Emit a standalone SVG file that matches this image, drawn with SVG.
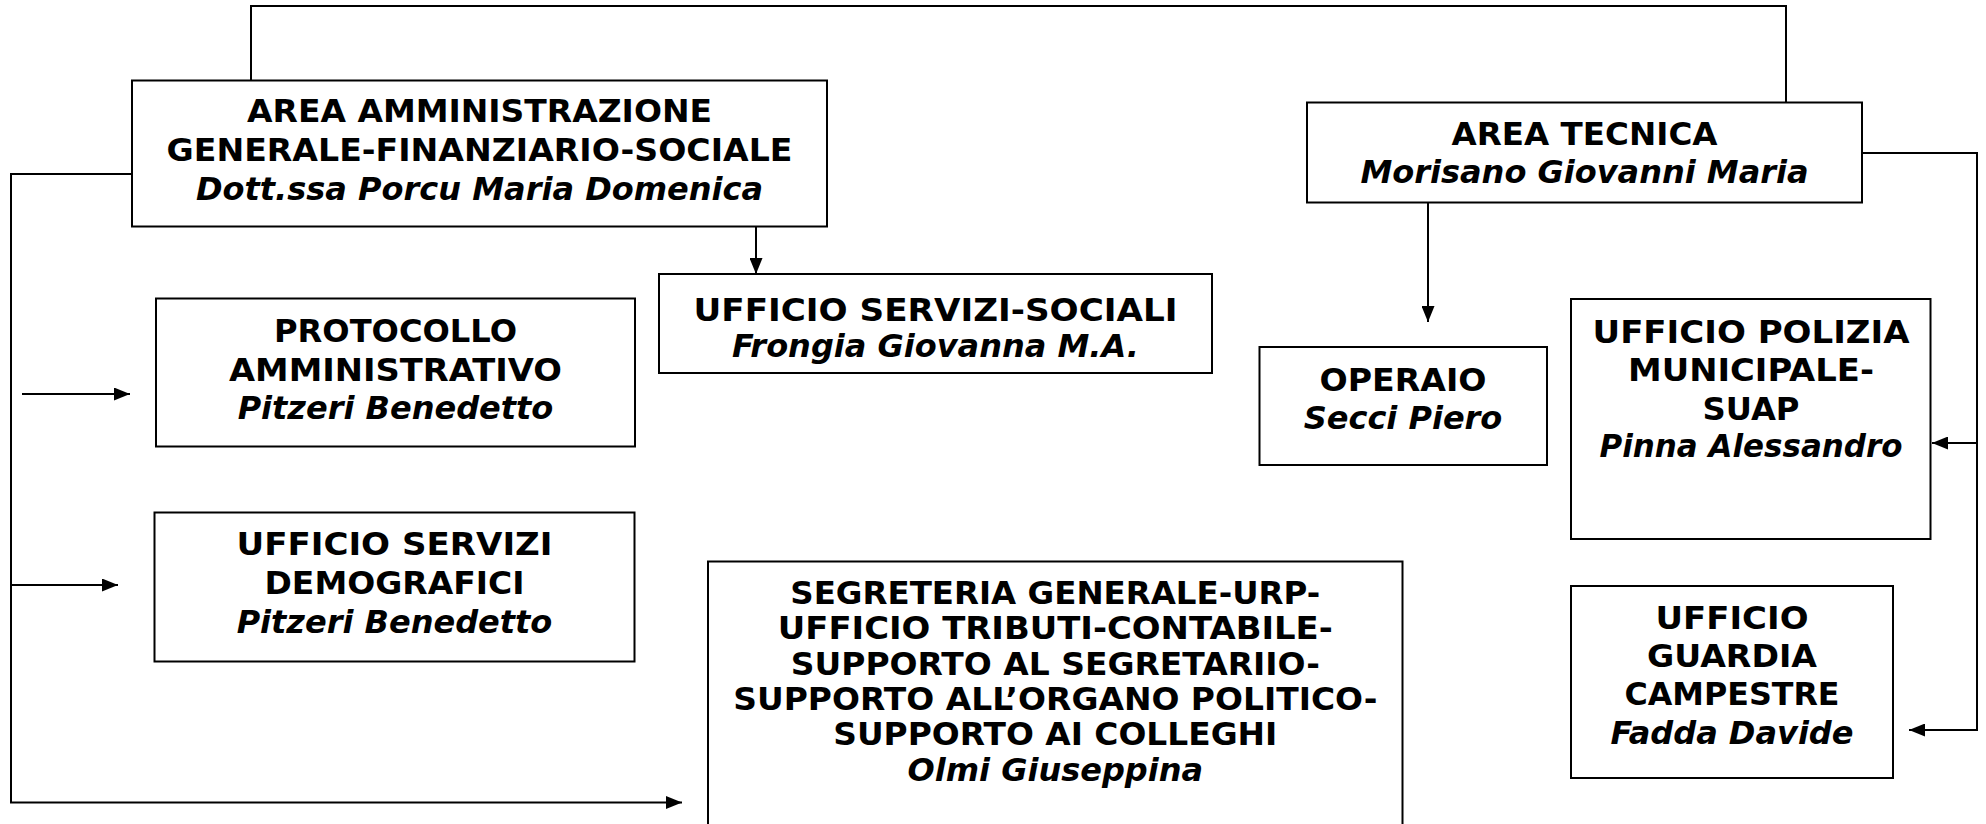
<svg xmlns="http://www.w3.org/2000/svg" width="1986" height="824" viewBox="0 0 1986 824">
<style>
.box{fill:#fff;stroke:#000;stroke-width:2}
.ln{fill:none;stroke:#000;stroke-width:2}
text{font-family:Verdana,"DejaVu Sans",sans-serif;font-weight:bold;font-size:32px;fill:#000;text-anchor:middle}
.it{font-style:italic}
</style>
<defs>
<marker id="ah" markerUnits="userSpaceOnUse" markerWidth="16" markerHeight="13" refX="16" refY="6.5" orient="auto">
<path d="M0,0 L16,6.5 L0,13 Z" fill="#000"/>
</marker>
</defs>
<rect width="1986" height="824" fill="#fff"/>
<g id="connectors">
<path class="ln" d="M251,80 V6 H1786 V102"/>
<path class="ln" d="M132,174 H11 V802.5 H682" marker-end="url(#ah)"/>
<path class="ln" d="M11,585 H118" marker-end="url(#ah)"/>
<path class="ln" d="M22,394 H130" marker-end="url(#ah)"/>
<path class="ln" d="M756,227 V274" marker-end="url(#ah)"/>
<path class="ln" d="M1862,153 H1977 V730 H1909" marker-end="url(#ah)"/>
<path class="ln" d="M1977,443 H1932" marker-end="url(#ah)"/>
<path class="ln" d="M1428,202 V322" marker-end="url(#ah)"/>
</g>
<g id="area-amministrazione">
<rect class="box" x="132" y="80.5" width="695" height="146"/>
<text x="479.5" y="122" textLength="465" lengthAdjust="spacingAndGlyphs">AREA AMMINISTRAZIONE</text>
<text x="479.5" y="161" textLength="626" lengthAdjust="spacingAndGlyphs">GENERALE-FINANZIARIO-SOCIALE</text>
<text class="it" x="479.5" y="199.5">Dott.ssa Porcu Maria Domenica</text>
</g>
<g id="servizi-sociali">
<rect class="box" x="659" y="274" width="553" height="99"/>
<text x="935.5" y="321" textLength="484" lengthAdjust="spacingAndGlyphs">UFFICIO SERVIZI-SOCIALI</text>
<text class="it" x="935.5" y="356.5">Frongia Giovanna M.A.</text>
</g>
<g id="protocollo">
<rect class="box" x="156" y="298.5" width="479" height="148"/>
<text x="395.5" y="342" textLength="243" lengthAdjust="spacingAndGlyphs">PROTOCOLLO</text>
<text x="395.5" y="380.5" textLength="333" lengthAdjust="spacingAndGlyphs">AMMINISTRATIVO</text>
<text class="it" x="395.5" y="419">Pitzeri Benedetto</text>
</g>
<g id="demografici">
<rect class="box" x="154.5" y="512.5" width="480" height="149"/>
<text x="394.5" y="555" textLength="316" lengthAdjust="spacingAndGlyphs">UFFICIO SERVIZI</text>
<text x="394.5" y="594" textLength="260" lengthAdjust="spacingAndGlyphs">DEMOGRAFICI</text>
<text class="it" x="394.5" y="632.5">Pitzeri Benedetto</text>
</g>
<g id="segreteria">
<rect class="box" x="708" y="561.5" width="694.5" height="280"/>
<text x="1055.3" y="604" textLength="530" lengthAdjust="spacingAndGlyphs">SEGRETERIA GENERALE-URP-</text>
<text x="1055.3" y="639.3" textLength="555" lengthAdjust="spacingAndGlyphs">UFFICIO TRIBUTI-CONTABILE-</text>
<text x="1055.3" y="674.7" textLength="529" lengthAdjust="spacingAndGlyphs">SUPPORTO AL SEGRETARIIO-</text>
<text x="1055.3" y="710" textLength="644" lengthAdjust="spacingAndGlyphs">SUPPORTO ALL’ORGANO POLITICO-</text>
<text x="1055.3" y="745.3" textLength="444" lengthAdjust="spacingAndGlyphs">SUPPORTO AI COLLEGHI</text>
<text class="it" x="1055.3" y="780.7">Olmi Giuseppina</text>
</g>
<g id="area-tecnica">
<rect class="box" x="1307" y="102.5" width="555" height="100"/>
<text x="1584.5" y="145" textLength="266" lengthAdjust="spacingAndGlyphs">AREA TECNICA</text>
<text class="it" x="1584.5" y="183">Morisano Giovanni Maria</text>
</g>
<g id="operaio">
<rect class="box" x="1259.5" y="347" width="287.5" height="118"/>
<text x="1403" y="391" textLength="167" lengthAdjust="spacingAndGlyphs">OPERAIO</text>
<text class="it" x="1403" y="429">Secci Piero</text>
</g>
<g id="polizia">
<rect class="box" x="1571" y="299" width="359.5" height="240"/>
<text x="1751" y="343" textLength="317" lengthAdjust="spacingAndGlyphs">UFFICIO POLIZIA</text>
<text x="1751" y="381" textLength="246" lengthAdjust="spacingAndGlyphs">MUNICIPALE-</text>
<text x="1751" y="419.5" textLength="97" lengthAdjust="spacingAndGlyphs">SUAP</text>
<text class="it" x="1751" y="457" textLength="303" lengthAdjust="spacingAndGlyphs">Pinna Alessandro</text>
</g>
<g id="guardia">
<rect class="box" x="1571" y="586" width="322" height="192"/>
<text x="1732" y="628.5" textLength="153" lengthAdjust="spacingAndGlyphs">UFFICIO</text>
<text x="1732" y="667" textLength="170" lengthAdjust="spacingAndGlyphs">GUARDIA</text>
<text x="1732" y="705" textLength="215" lengthAdjust="spacingAndGlyphs">CAMPESTRE</text>
<text class="it" x="1732" y="743.5">Fadda Davide</text>
</g>
</svg>
